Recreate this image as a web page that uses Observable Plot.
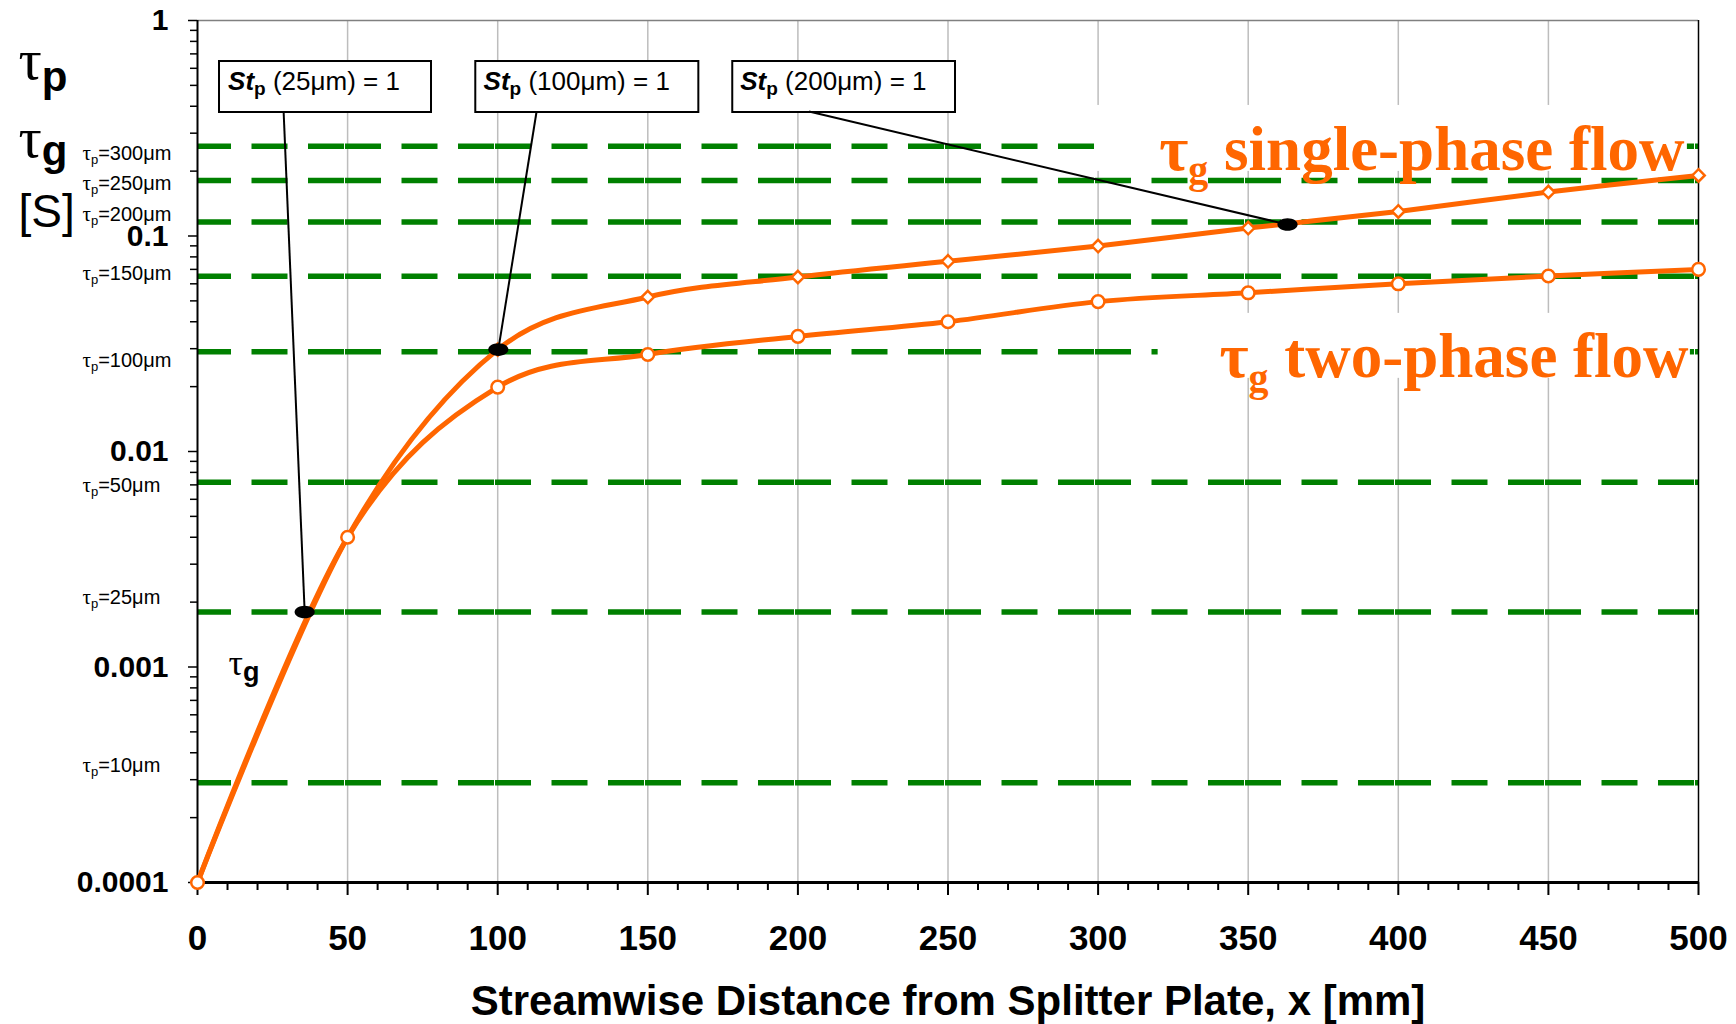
<!DOCTYPE html>
<html>
<head>
<meta charset="utf-8">
<script src="https://cdn.jsdelivr.net/npm/d3@7"></script>
<script src="https://cdn.jsdelivr.net/npm/@observablehq/plot@0.6"></script>
<style>
  html, body { margin: 0; padding: 0; background: #fff; }
  #chart svg { display: block; }
</style>
</head>
<body>
<div id="chart"></div>
<script>
// ---------------- data ----------------
const xPositions = [0, 50, 100, 150, 200, 250, 300, 350, 400, 450, 500];
const tauGSinglePhase = [0.0001, 0.004, 0.0297, 0.0521, 0.0645, 0.0763, 0.0898, 0.1088, 0.130, 0.160, 0.191];
const tauGTwoPhase    = [0.0001, 0.004, 0.0199, 0.0282, 0.0342, 0.0400, 0.0496, 0.0545, 0.0600, 0.0652, 0.070];

const particleDiameters = ["10", "25", "50", "100", "150", "200", "250", "300"];
const tauPValues = [0.00029, 0.0018, 0.0072, 0.029, 0.065, 0.116, 0.181, 0.261];
const tauPLabelY = [0.000347, 0.00211, 0.00697, 0.0265, 0.0668, 0.1253, 0.1748, 0.2421];

const stokesSizes = ["25μm", "100μm", "200μm"];
const stBoxX1 = [7.33, 92.7, 178.3];
const stBoxX2 = [77.95, 167.0, 252.5];
const stBoxYLow = 0.3742;
const stBoxYHigh = 0.6452;
const stTextX = [10.2, 95.3, 180.8];
const stTextY = 0.4735;
const leaderX1 = [28.7, 112.9, 203.7];
const leaderY1 = [0.3742, 0.3742, 0.378];
const stPointX = [35.7, 100.2, 363.1];
const stPointY = [0.0018, 0.0297, 0.113];

const flowLabels = ["τg single-phase flow", "τg two-phase flow"];
const flowLabelX = [495.3, 496.7];
const flowLabelY = [0.2015, 0.0221];
const flowBoxX1 = [299, 320];
const flowBoxX2 = [496.3, 497.3];
const flowBoxYLow = [0.1994, 0.02185];
const flowBoxYHigh = [0.4035, 0.04375];

const curveLabel = "τg";
const curveLabelX = 10.3;
const curveLabelY = 0.000916;

const axisSymbols = ["τp", "τG", "[S]"];
const axisSymbolY = [0.538, 0.2315, 0.1096];

const xMajorTicks = [0, 50, 100, 150, 200, 250, 300, 350, 400, 450, 500];
const xMinorTicks = [10, 20, 30, 40, 60, 70, 80, 90, 110, 120, 130, 140, 160, 170, 180, 190,
  210, 220, 230, 240, 260, 270, 280, 290, 310, 320, 330, 340, 360, 370, 380, 390,
  410, 420, 430, 440, 460, 470, 480, 490];
const xGridTicks = [50, 100, 150, 200, 250, 300, 350, 400, 450];
const yMajorTicks = [0.0001, 0.001, 0.01, 0.1, 1];
const yTickLabels = ["0.0001", "0.001", "0.01", "0.1", "1"];
const yMinorMultipliers = [2, 3, 4, 5, 6, 7, 8, 9];
const xAxisTitle = "Streamwise Distance from Splitter Plate, x [mm]";

// ---------------- derived tables ----------------
const single = xPositions.map((x, i) => ({x, y: tauGSinglePhase[i]}));
const two = xPositions.map((x, i) => ({x, y: tauGTwoPhase[i]}));
// single-phase markers only where they are not hidden under the shared two-phase markers
const singleMarkers = single.filter((d, i) => tauGSinglePhase[i] !== tauGTwoPhase[i]);
const tauP = particleDiameters.map((d, i) => ({d, v: tauPValues[i], ly: tauPLabelY[i], label: `τp=${d}μm`}));
const stokes = stokesSizes.map((s, i) => ({
  label: `Stp (${s}) = 1`, bx1: stBoxX1[i], bx2: stBoxX2[i], tx: stTextX[i],
  lx1: leaderX1[i], ly1: leaderY1[i], px: stPointX[i], py: stPointY[i]
}));
const flows = flowLabels.map((t, i) => ({
  t, x: flowLabelX[i], y: flowLabelY[i], bx1: flowBoxX1[i], bx2: flowBoxX2[i], by1: flowBoxYLow[i], by2: flowBoxYHigh[i]
}));
const symbols = axisSymbols.map((t, i) => ({t, y: axisSymbolY[i]}));
const yMinorTicks = yMajorTicks.slice(0, -1).flatMap(d => yMinorMultipliers.map(k => k * d));

const ORANGE = "#FF6600";
const GREEN = "#008000";
const SERIF = "'Liberation Serif', 'Times New Roman', serif";
const SANS = "'Liberation Sans', Arial, sans-serif";

const ellipse = {
  draw(ctx, size) {
    const r = Math.sqrt(size / Math.PI), rx = 1.6 * r, ry = r, k = 0.5523;
    ctx.moveTo(rx, 0);
    ctx.bezierCurveTo(rx, k * ry, k * rx, ry, 0, ry);
    ctx.bezierCurveTo(-k * rx, ry, -rx, k * ry, -rx, 0);
    ctx.bezierCurveTo(-rx, -k * ry, -k * rx, -ry, 0, -ry);
    ctx.bezierCurveTo(k * rx, -ry, rx, -k * ry, rx, 0);
    ctx.closePath();
  }
};

const smooth = d3.curveCatmullRom.alpha(0);

const chart = Plot.plot({
  width: 1736,
  height: 1024,
  marginLeft: 197,
  marginRight: 38,
  marginTop: 20,
  marginBottom: 142,
  style: {background: "white", fontFamily: SANS, overflow: "visible"},
  x: {domain: [0, 500], axis: null},
  y: {type: "log", domain: [0.0001, 1], axis: null},
  marks: [
    Plot.gridX(xGridTicks, {stroke: "#bdbdbd", strokeOpacity: 1, strokeWidth: 1.5}),
    Plot.ruleY(tauP, {y: "v", x1: 0, x2: 500, stroke: GREEN, strokeWidth: 5.5,
      strokeDasharray: "36,1,36,20.5,36,20.5", strokeDashoffset: 39}),
    Plot.ruleY([1], {stroke: "#808080", strokeWidth: 1.5}),
    Plot.ruleX([500], {stroke: "black", strokeWidth: 1.5}),
    Plot.rect(flows, {x1: "bx1", x2: "bx2", y1: "by1", y2: "by2", fill: "white"}),
    Plot.ruleX([0], {stroke: "black", strokeWidth: 2}),
    Plot.ruleY([0.0001], {stroke: "black", strokeWidth: 3}),
    Plot.axisY({ticks: yMinorTicks, tickSize: 7, tickFormat: () => "", label: null, strokeWidth: 1.5}),
    Plot.axisY({ticks: yMajorTicks, tickSize: 9, tickPadding: 20, label: null, strokeWidth: 1.5,
      tickFormat: d => yTickLabels[yMajorTicks.indexOf(d)], fontSize: 30, fontWeight: "bold"}),
    Plot.axisX({ticks: xMinorTicks, tickSize: 8, tickFormat: () => "", label: null, strokeWidth: 2}),
    Plot.axisX({ticks: xMajorTicks, tickSize: 13, tickPadding: 30, label: null, strokeWidth: 2,
      tickFormat: d => String(d), fontSize: 35, fontWeight: "bold"}),
    Plot.line(single, {x: "x", y: "y", stroke: ORANGE, strokeWidth: 5, curve: smooth}),
    Plot.line(two, {x: "x", y: "y", stroke: ORANGE, strokeWidth: 5, curve: smooth}),
    Plot.dot(singleMarkers, {x: "x", y: "y", symbol: "diamond2", r: 5.6, fill: "white", stroke: ORANGE, strokeWidth: 2.5}),
    Plot.dot(two, {x: "x", y: "y", symbol: "circle", r: 6.3, fill: "white", stroke: ORANGE, strokeWidth: 2.5}),
    Plot.rect(stokes, {x1: "bx1", x2: "bx2", y1: () => stBoxYLow, y2: () => stBoxYHigh, fill: "white", stroke: "black", strokeWidth: 2}),
    Plot.link(stokes, {x1: "lx1", y1: "ly1", x2: "px", y2: "py", stroke: "black", strokeWidth: 2}),
    Plot.dot(stokes, {x: "px", y: "py", symbol: ellipse, r: 6.3, fill: "black", stroke: "none"}),
    Plot.text([xAxisTitle], {frameAnchor: "bottom", dy: 132, lineAnchor: "bottom", text: d => d,
      fontSize: 42, fontWeight: "bold"}),
    Plot.text(tauP, {frameAnchor: "left", y: "ly", dx: -115, text: "label", textAnchor: "start",
      lineAnchor: "middle", fontSize: 20}),
    Plot.text(stokes, {x: "tx", y: () => stTextY, text: "label", textAnchor: "start", lineAnchor: "bottom", fontSize: 26}),
    Plot.text(flows, {x: "x", y: "y", text: "t", textAnchor: "end", lineAnchor: "bottom",
      fontSize: 63, fontFamily: SERIF, fontWeight: "bold", fill: ORANGE}),
    Plot.text([curveLabel], {x: () => curveLabelX, y: () => curveLabelY, text: d => d, textAnchor: "start",
      lineAnchor: "bottom", fontSize: 34}),
    Plot.text(symbols, {frameAnchor: "left", y: "y", dx: -179, text: "t",
      textAnchor: "start", lineAnchor: "bottom", fontSize: 44})
  ]
});

// ---------------- rich text (subscripts, mixed styles) ----------------
const rich = {};
particleDiameters.forEach(d => {
  rich[`τp=${d}μm`] = [{t: "τ", family: SERIF, size: 21}, {t: "p", size: 13, shift: 4}, {t: `=${d}μm`}];
});
stokesSizes.forEach(s => {
  rich[`Stp (${s}) = 1`] = [{t: "St", weight: "bold", style: "italic"}, {t: "p", weight: "bold", size: 19, shift: 5}, {t: ` (${s}) = 1`}];
});
rich["τg single-phase flow"] = [{t: "τ"}, {t: "g", size: 40, shift: 13}, {t: " single-phase flow"}];
rich["τg two-phase flow"] = [{t: "τ"}, {t: "g", size: 40, shift: 14}, {t: " two-phase flow"}];
rich["τg"] = [{t: "τ", family: SERIF, size: 36}, {t: "g", weight: "bold", size: 27, shift: 6}];
rich["τp"] = [{t: "τ", family: SERIF, size: 58}, {t: "p", weight: "bold", size: 42, shift: 12}];
rich["τG"] = [{t: "τ", family: SERIF, size: 58}, {t: "g", weight: "bold", size: 42, shift: 8}];
rich["[S]"] = [{t: "[S]", size: 46}];

const svgNode = chart.tagName.toLowerCase() === "svg" ? chart : chart.querySelector("svg");
d3.select(svgNode).selectAll("text").each(function () {
  const parts = rich[this.textContent];
  if (!parts) return;
  const el = d3.select(this);
  el.text(null);
  let shift = 0;
  for (const p of parts) {
    const ts = el.append("tspan").text(p.t);
    const s = p.shift || 0;
    if (s !== shift) ts.attr("dy", s - shift);
    shift = s;
    if (p.size) ts.attr("font-size", p.size);
    if (p.weight) ts.attr("font-weight", p.weight);
    if (p.style) ts.attr("font-style", p.style);
    if (p.family) ts.attr("font-family", p.family);
  }
});

document.getElementById("chart").appendChild(chart);
</script>
</body>
</html>
